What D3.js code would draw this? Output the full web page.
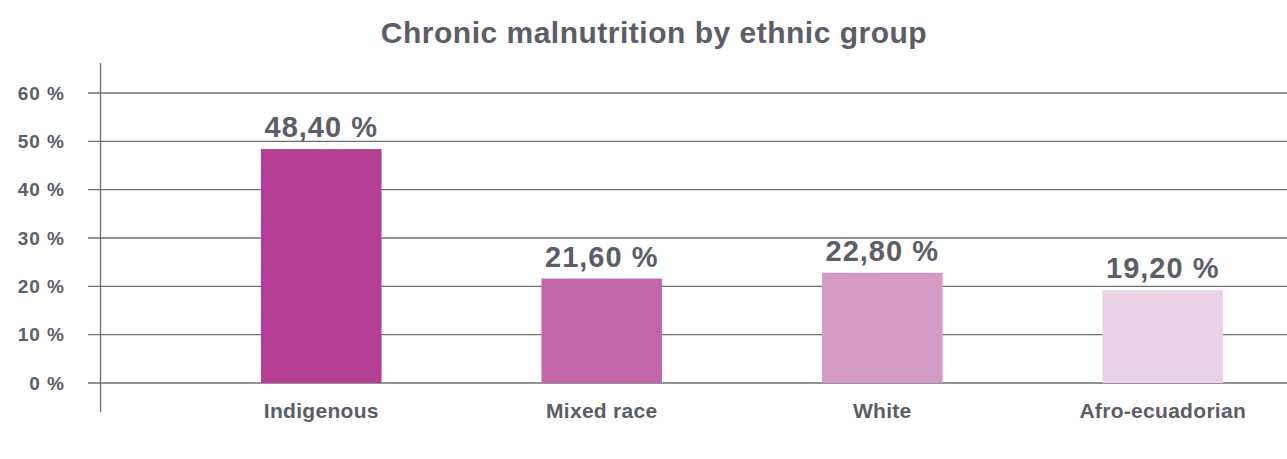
<!DOCTYPE html>
<html>
<head>
<meta charset="utf-8">
<script src="https://cdn.jsdelivr.net/npm/d3@7"></script>
<style>
  body { margin: 0; background: #fff; }
  text { font-family: "Liberation Sans", Arial, sans-serif; font-weight: bold; fill: #5b5e66; }
</style>
</head>
<body>
<div id="chart"></div>
<script>
// Data
var categories = ["Indigenous", "Mixed race", "White", "Afro-ecuadorian"];
var values = [48.4, 21.6, 22.8, 19.2];
var valueLabels = ["48,40 %", "21,60 %", "22,80 %", "19,20 %"];
var yTicks = [0, 10, 20, 30, 40, 50, 60];
var barColors = ["#b43f94", "#c266a7", "#d49ac4", "#ead3e6"];

var width = 1287, height = 459;

var svg = d3.select("#chart")
    .append("svg")
    .attr("width", width)
    .attr("height", height);

// Scales
var x = d3.scaleBand()
    .domain(categories)
    .range([181, 1303])
    .paddingInner(0.57)
    .paddingOuter(0.285);

var y = d3.scaleLinear()
    .domain([0, 60])
    .range([383, 93]);

// Title
svg.append("text")
    .attr("x", 654)
    .attr("y", 43)
    .attr("text-anchor", "middle")
    .style("font-size", "30px")
    .style("letter-spacing", "0.5px")
    .text("Chronic malnutrition by ethnic group");

// Gridlines
svg.append("g")
    .selectAll("line")
    .data(yTicks)
    .enter()
    .append("line")
    .attr("x1", 88)
    .attr("x2", width)
    .attr("y1", function(d) { return y(d); })
    .attr("y2", function(d) { return y(d); })
    .attr("stroke", "#6e6f76")
    .attr("stroke-width", 1.3);

// Y axis labels
svg.append("g")
    .selectAll("text")
    .data(yTicks)
    .enter()
    .append("text")
    .attr("x", 65)
    .attr("y", function(d) { return y(d); })
    .attr("dy", "0.35em")
    .attr("text-anchor", "end")
    .style("font-size", "19px")
    .style("letter-spacing", "1px")
    .text(function(d) { return d + " %"; });

// Vertical axis line
svg.append("line")
    .attr("x1", 100.5)
    .attr("x2", 100.5)
    .attr("y1", 63)
    .attr("y2", 412)
    .attr("stroke", "#6e6f76")
    .attr("stroke-width", 1.3);

// Bars
svg.selectAll(".bar")
    .data(values)
    .enter()
    .append("rect")
    .attr("class", "bar")
    .attr("x", function(d, i) { return x(categories[i]); })
    .attr("y", function(d) { return y(d); })
    .attr("width", x.bandwidth())
    .attr("height", function(d) { return y(0) - y(d); })
    .style("fill", function(d, i) { return barColors[i]; });

// Value labels
svg.selectAll(".value")
    .data(values)
    .enter()
    .append("text")
    .attr("class", "value")
    .attr("x", function(d, i) { return x(categories[i]) + x.bandwidth() / 2; })
    .attr("y", function(d) { return y(d) - 12; })
    .attr("text-anchor", "middle")
    .style("font-size", "29px")
    .style("letter-spacing", "1px")
    .text(function(d, i) { return valueLabels[i]; });

// Category labels
svg.selectAll(".cat")
    .data(categories)
    .enter()
    .append("text")
    .attr("class", "cat")
    .attr("x", function(d) { return x(d) + x.bandwidth() / 2; })
    .attr("y", 418)
    .attr("text-anchor", "middle")
    .style("font-size", "21px")
    .style("letter-spacing", "0.3px")
    .text(function(d) { return d; });
</script>
</body>
</html>
